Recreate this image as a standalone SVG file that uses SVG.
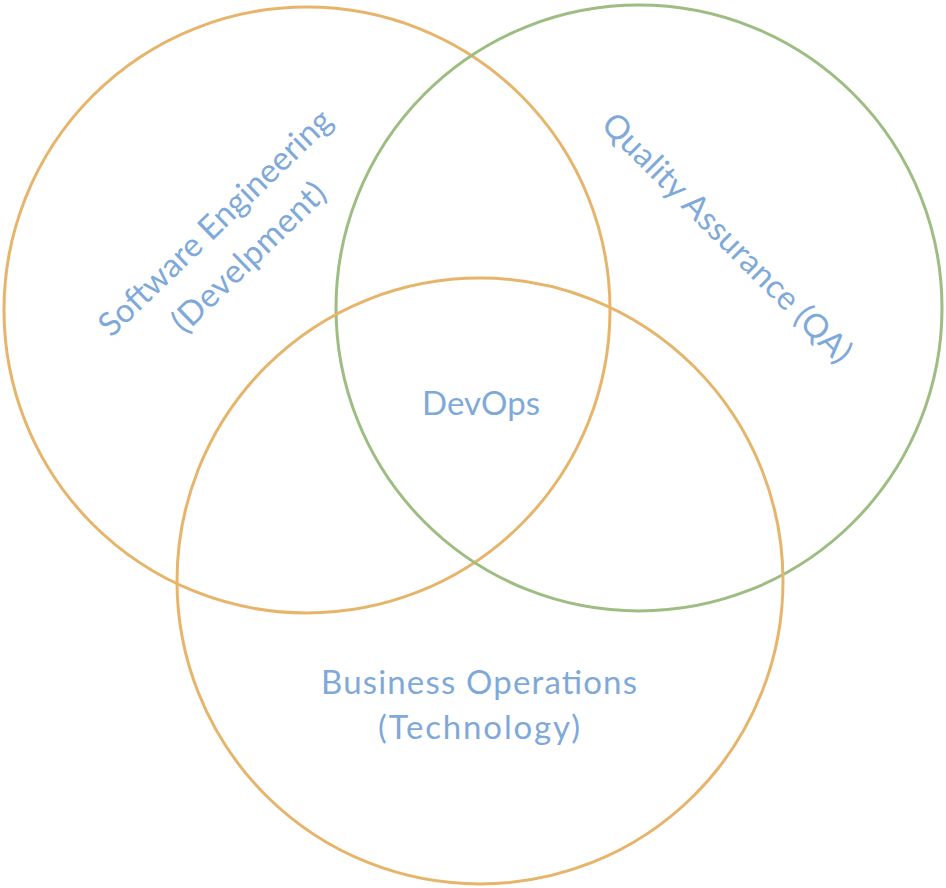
<svg xmlns="http://www.w3.org/2000/svg" width="946" height="888" viewBox="0 0 946 888">
<style>
.c{fill:none;stroke-width:3}
.o{stroke:#e6b56b}
.g{stroke:#9dbd82}
.t{font-family:Lato,"Open Sans","Liberation Sans",sans-serif;font-size:33px;fill:#7ea9d9;text-anchor:middle}
</style>
<rect width="946" height="888" fill="#fff"/>
<g id="circle-dev"><circle class="c o" cx="307" cy="310" r="303"/></g>
<g id="circle-qa"><circle class="c g" cx="639" cy="308" r="303"/></g>
<g id="circle-ops"><circle class="c o" cx="480" cy="581" r="303"/></g>
<g id="label-dev" transform="translate(232,240) rotate(-44)">
<text class="t" x="0" y="-13" textLength="310">Software Engineering</text>
<text class="t" x="0" y="35" textLength="200">(Develpment)</text>
</g>
<g id="label-qa" transform="translate(727,238) rotate(45)">
<text class="t" x="0" y="11" textLength="338">Quality Assurance (QA)</text>
</g>
<g id="label-devops"><text class="t" x="481" y="415" textLength="118">DevOps</text></g>
<g id="label-ops">
<text class="t" x="479" y="694" textLength="316">Business Operations</text>
<text class="t" x="479" y="739" textLength="202">(Technology)</text>
</g>
<g id="connectors"></g>
</svg>
